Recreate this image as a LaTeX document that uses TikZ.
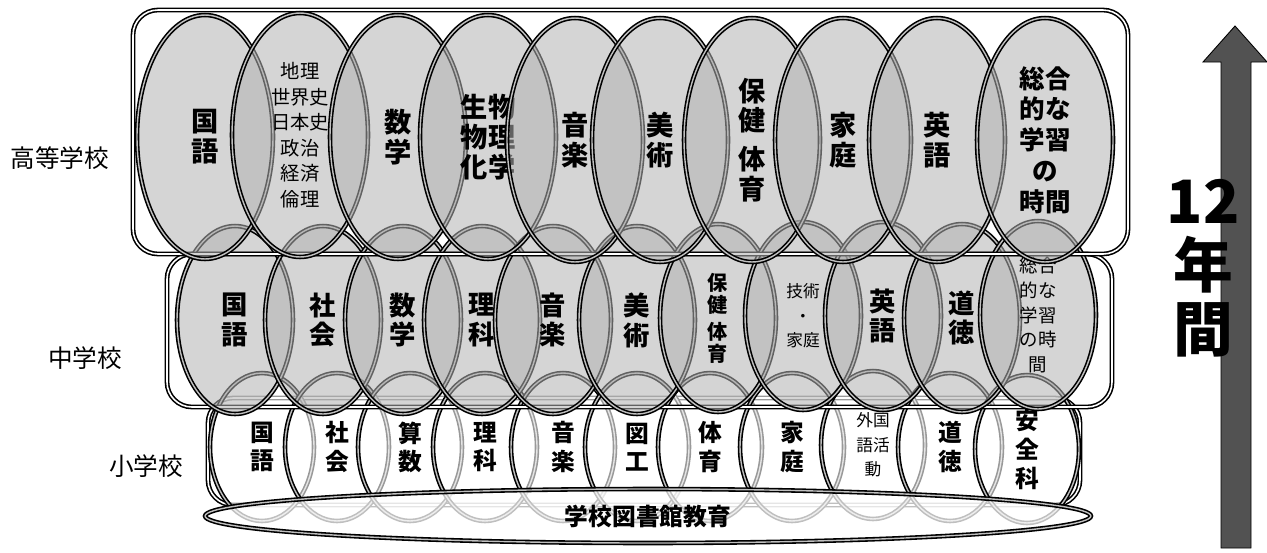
\documentclass[tikz,border=0pt]{standalone}
\usepackage{fontspec}
\setmainfont{Noto Sans CJK JP}
\usetikzlibrary{shapes.geometric}

\tikzset{
  kamoku/.style={ellipse, draw=black, line width=0.9pt, double=gray!50, double distance=0.8pt,
    inner sep=0pt, align=center, text opacity=1},
  koukou/.style={kamoku, fill=gray!60, fill opacity=0.55, minimum width=2.72cm, minimum height=4.88cm,
    font=\fontsize{15.5}{17}\selectfont\bfseries},
  chuu/.style={kamoku, fill=gray!60, fill opacity=0.55, minimum width=2.32cm, minimum height=3.76cm,
    font=\fontsize{15}{17}\selectfont\bfseries},
  shou/.style={kamoku, fill=white, fill opacity=0.6, minimum width=2.08cm, minimum height=2.96cm,
    font=\fontsize{13.5}{16}\selectfont\bfseries},
  waku/.style={draw=black, line width=0.9pt, double=white, double distance=0.9pt, rounded corners=0.5cm},
  gakko/.style={font=\fontsize{14}{16}\selectfont}
}

\begin{document}
\begin{tikzpicture}[x=0.02cm, y=-0.02cm]
        \useasboundingbox (0,0) rectangle (1267,552);

        % 小学校
        \draw[waku, fill=white] (208,398) rectangle (1080,505);
        \node[shou] (s1) at (262,447) {国\\語};
        \node[shou] (s2) at (337,447) {社\\会};
        \node[shou] (s3) at (410,447) {算\\数};
        \node[shou] (s4) at (485,447) {理\\科};
        \node[shou] (s5) at (563,447) {音\\楽};
        \node[shou] (s6) at (637,447) {図\\工};
        \node[shou] (s7) at (710,447) {体\\育};
        \node[shou] (s8) at (792,447) {家\\庭};
        \node[shou, font=\fontsize{9.5}{14}\selectfont] (s9) at (873,445) {外国\\語活\\動};
        \node[shou] (s10) at (950,447) {道\\徳};
        \node[shou, font=\fontsize{13.5}{16.5}\selectfont\bfseries] (s11) at (1027,449) {安\\全\\科};

        % 学校图书馆教育
        \node[kamoku, fill=white, fill opacity=0.75, minimum width=17.72cm, minimum height=1.08cm,
          font=\fontsize{13.5}{16}\selectfont\bfseries] (tosho) at (648,516) {学校図書館教育};

        % 中学校
        \draw[waku] (167,254) rectangle (1112,407);
        \node[chuu] (c1) at (235,320) {国\\語};
        \node[chuu] (c2) at (323,320) {社\\会};
        \node[chuu] (c3) at (403,320) {数\\学};
        \node[chuu] (c4) at (482,320) {理\\科};
        \node[chuu] (c5) at (553,320) {音\\楽};
        \node[chuu] (c6) at (637,320) {美\\術};
        \node[chuu, font=\fontsize{11.5}{12.5}\selectfont\bfseries] (c7) at (718,318) {保\\健\\[3pt]体\\育};
        \node[chuu, font=\fontsize{9.5}{14}\selectfont] (c8) at (803,316) {技術\\・\\家庭};
        \node[chuu] (c9) at (883,316) {英\\語};
        \node[chuu] (c10) at (962,318) {道\\徳};
        \node[chuu, font=\fontsize{10.5}{14}\selectfont] (c11) at (1038,315) {総合\\的な\\学習\\の時\\間};

        % 高等学校
        \draw[waku] (133,10) rectangle (1128,254);
        \node[koukou] (k1) at (205,137) {国\\語};
        \node[koukou, font=\fontsize{11}{14.5}\selectfont] (k2) at (300,135) {地理\\世界史\\日本史\\政治\\経済\\倫理};
        \node[koukou] (k3) at (398,137) {数\\学};
        \node[koukou] (k4) at (488,137) {生物\\物理\\化学};
        \node[koukou] (k5) at (575,140) {音\\楽};
        \node[koukou] (k6) at (660,140) {美\\術};
        \node[koukou] (k7) at (752,140) {保\\健\\[5pt]体\\育};
        \node[koukou] (k8) at (843,140) {家\\庭};
        \node[koukou] (k9) at (937,140) {英\\語};
        \node[koukou, font=\fontsize{14.5}{17.5}\selectfont\bfseries] (k10) at (1045,140) {総合\\的な\\学習\\の\\時間};

        % 左侧标签
        \node[gakko] (koukou) at (60,158) {高等学校};
        \node[gakko] (chuugaku) at (85,358) {中学校};
        \node[gakko] (shougaku) at (146,466) {小学校};

        % 右侧箭头
        \filldraw[fill=black!68, draw=black, line width=0.5pt]
          (1221,548) -- (1221,62) -- (1203,62) -- (1235,26) -- (1267,62) -- (1251,62) -- (1251,548) -- cycle;
        \node[font=\fontsize{34}{36.5}\selectfont\bfseries, align=center] (nenkan) at (1203,268) {12\\年\\間};
\end{tikzpicture}
\end{document}
